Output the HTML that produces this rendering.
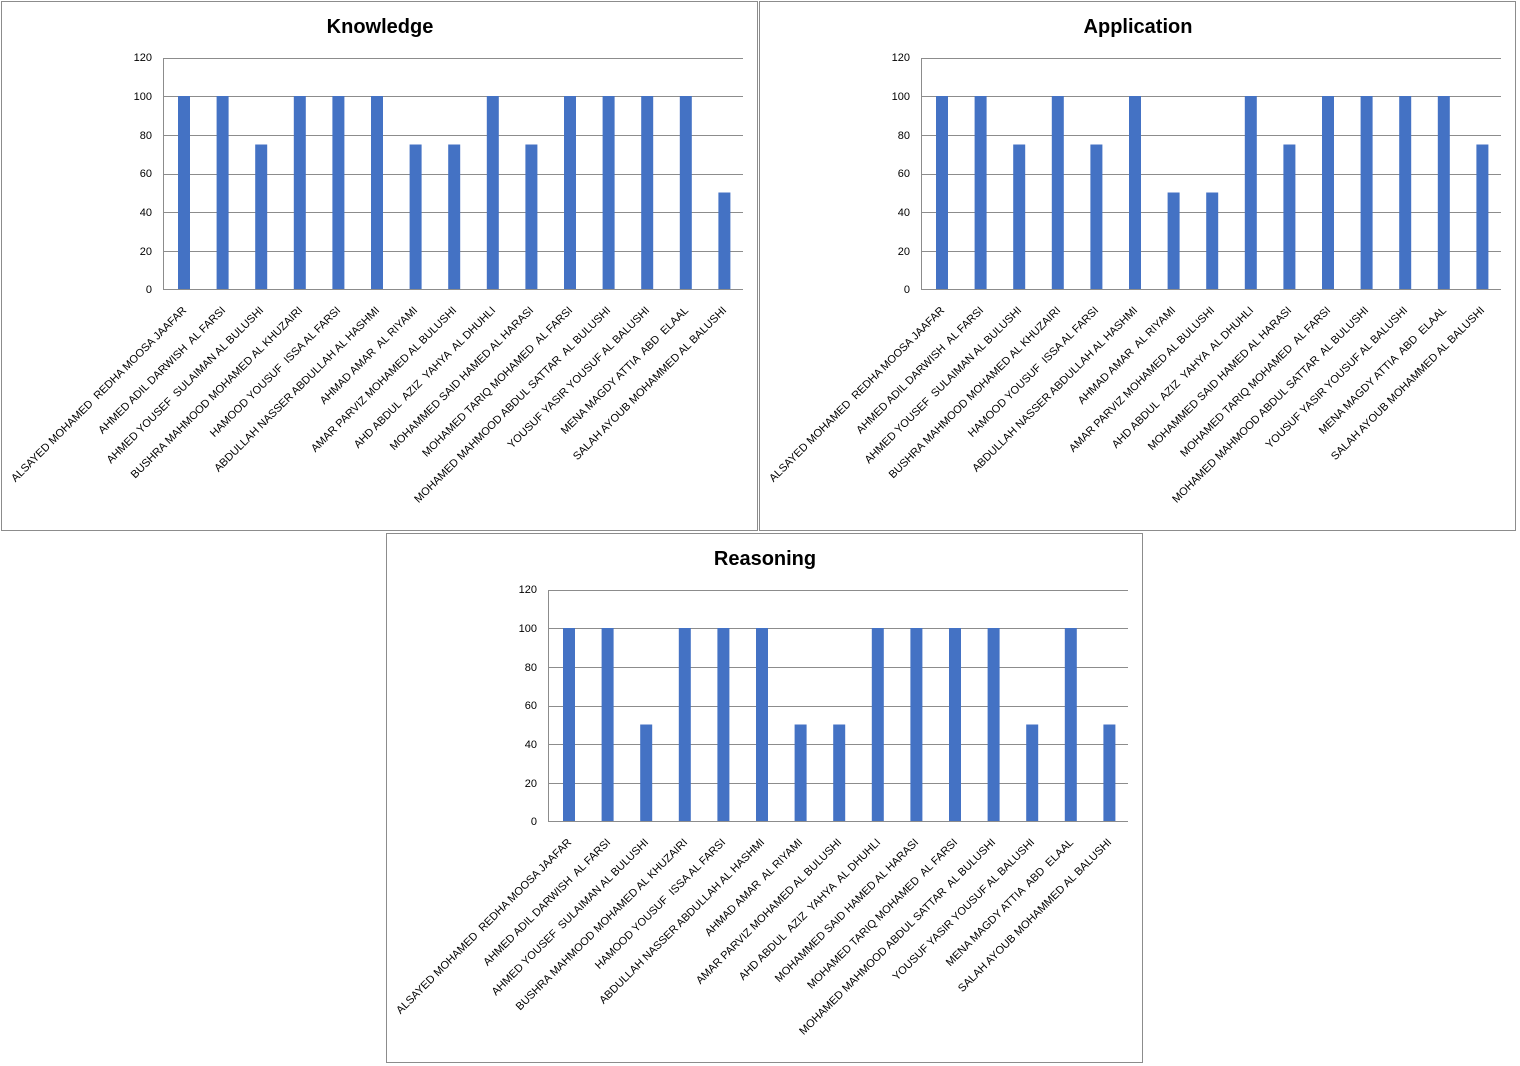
<!DOCTYPE html>
<html><head><meta charset="utf-8"><style>html,body{margin:0;padding:0;background:#fff}svg{display:block}.lb text{white-space:pre}</style></head>
<body>
<svg width="1520" height="1066" viewBox="0 0 1520 1066" xmlns="http://www.w3.org/2000/svg" xmlns:xlink="http://www.w3.org/1999/xlink" font-family="Liberation Sans, sans-serif">
<defs>
<g id="axes">
<rect x="0.5" y="0.5" width="756" height="529" fill="#fff" stroke="#8c8c8c" stroke-width="1"/>
<g stroke="#8c8c8c" stroke-width="1">
<line x1="163" y1="57.5" x2="742" y2="57.5"/>
<line x1="163" y1="95.5" x2="742" y2="95.5"/>
<line x1="163" y1="134.5" x2="742" y2="134.5"/>
<line x1="163" y1="173.5" x2="742" y2="173.5"/>
<line x1="163" y1="211.5" x2="742" y2="211.5"/>
<line x1="163" y1="250.5" x2="742" y2="250.5"/>
<line x1="163" y1="288.5" x2="742" y2="288.5"/>
<line x1="162.5" y1="57" x2="162.5" y2="289"/>
</g>
<g font-size="11" fill="#000" text-anchor="end">
<text x="151" y="60">120</text>
<text x="151" y="99">100</text>
<text x="151" y="138">80</text>
<text x="151" y="176">60</text>
<text x="151" y="215">40</text>
<text x="151" y="254">20</text>
<text x="151" y="292">0</text>
</g>
<g class="lb" font-size="11" fill="#000" text-anchor="end" xml:space="preserve">
<text transform="translate(186,310) rotate(-45)">ALSAYED MOHAMED  REDHA MOOSA JAAFAR</text>
<text transform="translate(225,310) rotate(-45)">AHMED ADIL DARWISH  AL FARSI</text>
<text transform="translate(263,310) rotate(-45)">AHMED YOUSEF  SULAIMAN AL BULUSHI</text>
<text transform="translate(302,310) rotate(-45)">BUSHRA MAHMOOD MOHAMED AL KHUZAIRI</text>
<text transform="translate(340,310) rotate(-45)">HAMOOD YOUSUF  ISSA AL FARSI</text>
<text transform="translate(379,310) rotate(-45)">ABDULLAH NASSER ABDULLAH AL HASHMI</text>
<text transform="translate(417,310) rotate(-45)">AHMAD AMAR  AL RIYAMI</text>
<text transform="translate(456,310) rotate(-45)">AMAR PARVIZ MOHAMED AL BULUSHI</text>
<text transform="translate(495,310) rotate(-45)">AHD ABDUL  AZIZ  YAHYA  AL DHUHLI</text>
<text transform="translate(533,310) rotate(-45)">MOHAMMED SAID HAMED AL HARASI</text>
<text transform="translate(572,310) rotate(-45)">MOHAMED TARIQ MOHAMED  AL FARSI</text>
<text transform="translate(610,310) rotate(-45)">MOHAMED MAHMOOD ABDUL SATTAR  AL BULUSHI</text>
<text transform="translate(649,310) rotate(-45)">YOUSUF YASIR YOUSUF AL BALUSHI</text>
<text transform="translate(688,310) rotate(-45)">MENA MAGDY ATTIA  ABD  ELAAL</text>
<text transform="translate(726,310) rotate(-45)">SALAH AYOUB MOHAMMED AL BALUSHI</text>
</g>
</g>
</defs>

<g transform="translate(1,1)">
<use xlink:href="#axes"/>
<text x="379" y="32" font-size="20" font-weight="bold" text-anchor="middle">Knowledge</text>
<g fill="#4472c4">
<rect x="177" y="95" width="12" height="193"/>
<rect x="215.6" y="95" width="12" height="193"/>
<rect x="254.2" y="143.5" width="12" height="144.5"/>
<rect x="292.8" y="95" width="12" height="193"/>
<rect x="331.4" y="95" width="12" height="193"/>
<rect x="370" y="95" width="12" height="193"/>
<rect x="408.6" y="143.5" width="12" height="144.5"/>
<rect x="447.2" y="143.5" width="12" height="144.5"/>
<rect x="485.8" y="95" width="12" height="193"/>
<rect x="524.4" y="143.5" width="12" height="144.5"/>
<rect x="563" y="95" width="12" height="193"/>
<rect x="601.6" y="95" width="12" height="193"/>
<rect x="640.2" y="95" width="12" height="193"/>
<rect x="678.8" y="95" width="12" height="193"/>
<rect x="717.4" y="191.5" width="12" height="96.5"/>
</g>
</g>

<g transform="translate(759,1)">
<use xlink:href="#axes"/>
<text x="379" y="32" font-size="20" font-weight="bold" text-anchor="middle">Application</text>
<g fill="#4472c4">
<rect x="177" y="95" width="12" height="193"/>
<rect x="215.6" y="95" width="12" height="193"/>
<rect x="254.2" y="143.5" width="12" height="144.5"/>
<rect x="292.8" y="95" width="12" height="193"/>
<rect x="331.4" y="143.5" width="12" height="144.5"/>
<rect x="370" y="95" width="12" height="193"/>
<rect x="408.6" y="191.5" width="12" height="96.5"/>
<rect x="447.2" y="191.5" width="12" height="96.5"/>
<rect x="485.8" y="95" width="12" height="193"/>
<rect x="524.4" y="143.5" width="12" height="144.5"/>
<rect x="563" y="95" width="12" height="193"/>
<rect x="601.6" y="95" width="12" height="193"/>
<rect x="640.2" y="95" width="12" height="193"/>
<rect x="678.8" y="95" width="12" height="193"/>
<rect x="717.4" y="143.5" width="12" height="144.5"/>
</g>
</g>

<g transform="translate(386,533)">
<use xlink:href="#axes"/>
<text x="379" y="32" font-size="20" font-weight="bold" text-anchor="middle">Reasoning</text>
<g fill="#4472c4">
<rect x="177" y="95" width="12" height="193"/>
<rect x="215.6" y="95" width="12" height="193"/>
<rect x="254.2" y="191.5" width="12" height="96.5"/>
<rect x="292.8" y="95" width="12" height="193"/>
<rect x="331.4" y="95" width="12" height="193"/>
<rect x="370" y="95" width="12" height="193"/>
<rect x="408.6" y="191.5" width="12" height="96.5"/>
<rect x="447.2" y="191.5" width="12" height="96.5"/>
<rect x="485.8" y="95" width="12" height="193"/>
<rect x="524.4" y="95" width="12" height="193"/>
<rect x="563" y="95" width="12" height="193"/>
<rect x="601.6" y="95" width="12" height="193"/>
<rect x="640.2" y="191.5" width="12" height="96.5"/>
<rect x="678.8" y="95" width="12" height="193"/>
<rect x="717.4" y="191.5" width="12" height="96.5"/>
</g>
</g>
</svg>
</body></html>
